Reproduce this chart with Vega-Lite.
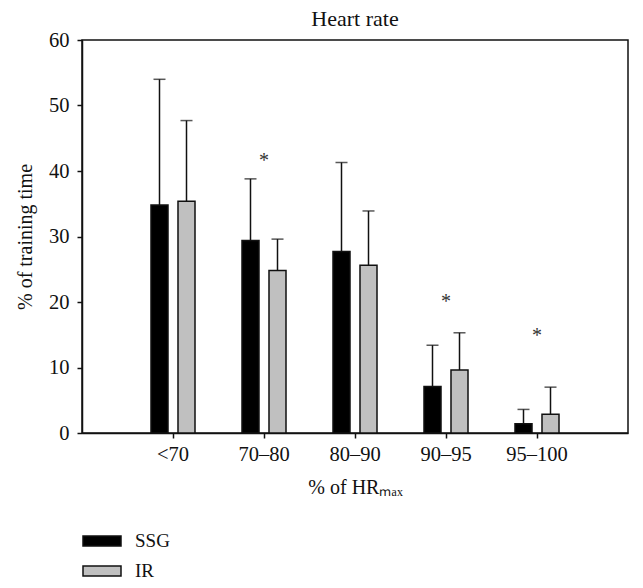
{
  "$schema": "https://vega.github.io/schema/vega-lite/v6.json",
  "autosize": {"type": "none"},
  "padding": {"left": 82, "top": 40, "right": 15, "bottom": 155},
  "width": 546,
  "height": 393,
  "background": "white",
  "title": {"text": "Heart rate", "font": "Liberation Serif", "fontSize": 22, "fontWeight": "normal", "color": "#111", "anchor": "middle", "offset": -1},
  "config": {
    "font": "Liberation Serif",
    "view": {"stroke": "#111", "strokeWidth": 1.5},
    "axis": {"domainColor": "#111", "domainWidth": 1.5, "tickColor": "#111", "tickWidth": 1.5, "tickSize": 5, "labelFont": "Liberation Serif", "labelFontSize": 20.5, "labelColor": "#111", "titleFont": "Liberation Serif", "titleFontSize": 20, "titleFontWeight": "normal", "titleColor": "#111", "grid": false}
  },
  "data": {"values": [
    {"range": "<70", "group": "SSG", "mean": 34.8, "upper": 54.0},
    {"range": "<70", "group": "IR", "mean": 35.4, "upper": 47.7},
    {"range": "70–80", "group": "SSG", "mean": 29.4, "upper": 38.8},
    {"range": "70–80", "group": "IR", "mean": 24.8, "upper": 29.6},
    {"range": "80–90", "group": "SSG", "mean": 27.7, "upper": 41.3},
    {"range": "80–90", "group": "IR", "mean": 25.6, "upper": 33.9},
    {"range": "90–95", "group": "SSG", "mean": 7.1, "upper": 13.4},
    {"range": "90–95", "group": "IR", "mean": 9.6, "upper": 15.3},
    {"range": "95–100", "group": "SSG", "mean": 1.4, "upper": 3.6},
    {"range": "95–100", "group": "IR", "mean": 2.85, "upper": 7.0}
  ]},
  "encoding": {
    "x": {"field": "range", "type": "nominal", "sort": ["<70", "70–80", "80–90", "90–95", "95–100"],
      "scale": {"paddingInner": 0, "paddingOuter": 0.5},
      "axis": {"title": "% of HRₘₐₓ", "labelAngle": 0, "labelPadding": 6, "titlePadding": 13}}
  },
  "layer": [
    {
      "mark": {"type": "rule", "color": "#111", "strokeWidth": 1.5},
      "encoding": {
        "xOffset": {"field": "group", "type": "nominal", "sort": ["SSG", "IR"], "scale": {"paddingInner": 0.37, "paddingOuter": 0.87}},
        "y": {"field": "mean", "type": "quantitative"},
        "y2": {"field": "upper"}
      }
    },
    {
      "mark": {"type": "tick", "color": "#111", "thickness": 1.5, "size": 12},
      "encoding": {
        "xOffset": {"field": "group", "type": "nominal", "sort": ["SSG", "IR"]},
        "y": {"field": "upper", "type": "quantitative"}
      }
    },
    {
      "mark": {"type": "bar", "stroke": "#111", "strokeWidth": 1.5},
      "encoding": {
        "xOffset": {"field": "group", "type": "nominal", "sort": ["SSG", "IR"]},
        "y": {"field": "mean", "type": "quantitative",
          "scale": {"domain": [0, 60], "nice": false},
          "axis": {"title": "% of training time", "values": [0, 10, 20, 30, 40, 50, 60], "labelPadding": 8, "titlePadding": 13}},
        "color": {"field": "group", "type": "nominal", "sort": ["SSG", "IR"],
          "scale": {"domain": ["SSG", "IR"], "range": ["#000000", "#c0c0c0"]},
          "legend": {"title": null, "orient": "none", "legendX": 0, "legendY": 481, "direction": "vertical",
            "symbolType": "M-1,-0.26H1V0.26H-1Z", "symbolSize": 1444, "symbolStrokeColor": "#111", "symbolStrokeWidth": 1.5,
            "labelFont": "Liberation Serif", "labelFontSize": 19, "labelColor": "#111", "labelOffset": 13, "rowPadding": -6}}
      }
    },
    {
      "data": {"values": [
        {"range": "70–80", "y": 42.3},
        {"range": "90–95", "y": 20.7},
        {"range": "95–100", "y": 15.5}
      ]},
      "mark": {"type": "text", "text": "*", "fontSize": 20, "font": "Liberation Serif", "color": "#333", "baseline": "middle", "dy": 5},
      "encoding": {
        "y": {"field": "y", "type": "quantitative"}
      }
    }
  ]
}
